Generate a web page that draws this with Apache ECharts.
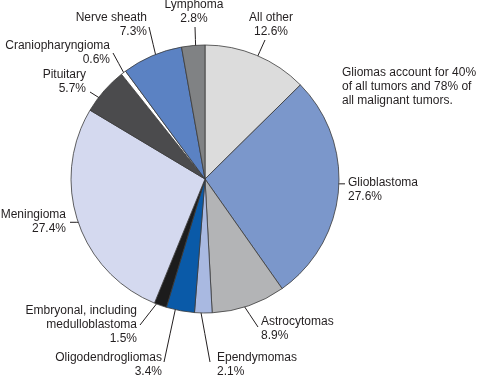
<!DOCTYPE html>
<html><head><meta charset="utf-8">
<script src="https://cdn.jsdelivr.net/npm/echarts@6/dist/echarts.min.js"></script>
<style>html,body{margin:0;padding:0;background:#fff}#c{width:479px;height:377px}</style>
</head><body><div id="c"></div>
<script>
const categories = ['All other', 'Glioblastoma', 'Astrocytomas', 'Ependymomas', 'Oligodendrogliomas',
  'Embryonal, including\nmedulloblastoma', 'Meningioma', 'Pituitary', 'Craniopharyngioma', 'Nerve sheath', 'Lymphoma'];
const values = [12.6, 27.6, 8.9, 2.1, 3.4, 1.5, 27.4, 5.7, 0.6, 7.3, 2.8];
const colors = ['#dcdcdc', '#7b97cb', '#b3b4b6', '#a9b9e1', '#0a5aa8', '#1c1c1c', '#d4d9ef', '#4b4b4d', '#ffffff', '#5b82c3', '#808284'];
const noteLines = ['Gliomas account for 40%', 'of all tumors and 78% of', 'all malignant tumors.'];

// label placement (style): label anchor, alignment, leader line inner point (t within slice, f of radius), outer point
const labelLayouts = [
  {x: 271, y: 25, align: 'center', t: 0.51, f: 0.94, ox: 265, oy: 40},
  {x: 348, y: 190, align: 'left', t: 0.47, f: 0.96, ox: 345, oy: null},
  {x: 261, y: 329, align: 'left', t: 0.58, f: 0.96, ox: 258, oy: 327},
  {x: 217, y: 365, align: 'left', t: 0.73, f: 0.94, ox: 210, oy: 362},
  {x: 162, y: 365, align: 'right', t: 0.68, f: 0.96, ox: 164, oy: 362},
  {x: 137, y: 325, align: 'right', t: 0.73, f: 0.97, ox: 140, oy: 325},
  {x: 66, y: 222, align: 'right', t: 0.49, f: 0.97, ox: 70, oy: null},
  {x: 86, y: 82, align: 'right', t: 0.35, f: 0.90, ox: 90, oy: 92},
  {x: 110, y: 53, align: 'right', t: 0.5, f: 0.99, ox: 113, oy: 53},
  {x: 147, y: 25, align: 'right', t: 0.54, f: 0.94, ox: 149, oy: 27},
  {x: 194, y: 12, align: 'center', t: 0.59, f: 0.95, ox: 195, oy: 27}
];

const FONT = "'Liberation Sans', Arial, Helvetica, sans-serif";
const TEXT = '#231f20';
const chart = echarts.init(document.getElementById('c'), null, {renderer: 'canvas'});

function innerPoint(i) {
  const L = labelLayouts[i];
  const lay = chart.getModel().getSeriesByIndex(0).getData().getItemLayout(i);
  const a = lay.startAngle + L.t * (lay.endAngle - lay.startAngle);
  const r = lay.r * L.f;
  return [lay.cx + r * Math.cos(a), lay.cy + r * Math.sin(a)];
}

chart.setOption({
  animation: false,
  backgroundColor: '#fff',
  graphic: [{
    type: 'text', left: 342, top: 66,
    style: {text: noteLines.join('\n'), fontSize: 12, fontFamily: FONT, lineHeight: 14, fill: TEXT}
  }],
  series: [{
    type: 'pie',
    center: [205, 179],
    radius: 134,
    startAngle: 90,
    clockwise: true,
    avoidLabelOverlap: false,
    data: categories.map((n, i) => ({name: n, value: values[i], itemStyle: {color: colors[i]}})),
    itemStyle: {borderColor: '#3a3a3a', borderWidth: 0.8},
    label: {
      show: true, position: 'outside',
      formatter: p => p.name + '\n' + p.value + '%',
      fontSize: 12, fontFamily: FONT, color: TEXT, lineHeight: 14
    },
    labelLine: {show: true, length: 5, length2: 5, lineStyle: {color: TEXT, width: 1}},
    emphasis: {disabled: true},
    labelLayout: function (p) {
      const L = labelLayouts[p.dataIndex];
      const ip = innerPoint(p.dataIndex);
      const oy = L.oy == null ? ip[1] : L.oy;
      return {
        x: L.x, y: L.y, align: L.align, verticalAlign: 'middle',
        labelLinePoints: [ip, [(ip[0] + L.ox) / 2, (ip[1] + oy) / 2], [L.ox, oy]]
      };
    }
  }]
});
</script></body></html>
